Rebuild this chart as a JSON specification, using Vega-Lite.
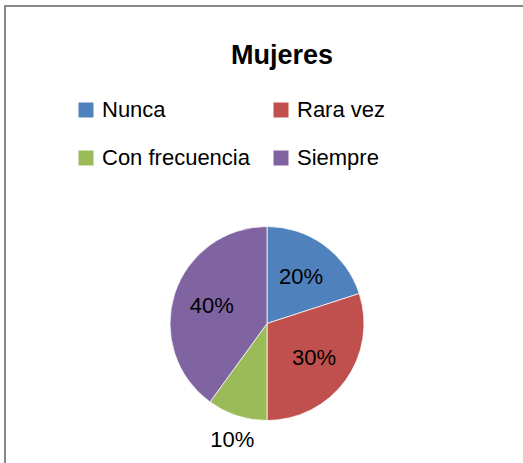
{
  "$schema": "https://vega.github.io/schema/vega-lite/v6.json",
  "autosize": "none",
  "width": 524,
  "height": 635,
  "padding": {"left": 5, "top": 6, "right": 0, "bottom": 0},
  "background": "white",
  "view": {"stroke": "#878787", "strokeWidth": 2},
  "config": {
    "view": {"stroke": "#878787", "strokeWidth": 2},
    "font": "Liberation Sans"
  },
  "title": {
    "text": "Mujeres",
    "font": "Liberation Sans",
    "fontSize": 27,
    "fontWeight": "bold",
    "color": "#000000",
    "anchor": "middle",
    "frame": "group",
    "baseline": "alphabetic",
    "offset": 0,
    "dx": 15,
    "dy": 85
  },
  "data": {
    "values": [
      {"categoria": "Nunca", "valor": 20, "etiqueta": "20%", "orden": 1},
      {"categoria": "Rara vez", "valor": 30, "etiqueta": "30%", "orden": 2},
      {"categoria": "Con frecuencia", "valor": 10, "etiqueta": "10%", "orden": 3},
      {"categoria": "Siempre", "valor": 40, "etiqueta": "40%", "orden": 4}
    ]
  },
  "encoding": {
    "theta": {"field": "valor", "type": "quantitative", "stack": true},
    "order": {"field": "orden", "type": "quantitative"}
  },
  "layer": [
    {
      "mark": {"type": "arc", "outerRadius": 97, "stroke": "white", "strokeWidth": 0.75},
      "encoding": {
        "color": {
          "field": "categoria",
          "type": "nominal",
          "scale": {
            "domain": ["Nunca", "Rara vez", "Con frecuencia", "Siempre"],
            "range": ["#4F81BD", "#C0504D", "#9BBB59", "#8064A2"]
          },
          "legend": {
            "title": null,
            "orient": "none",
            "legendX": 70,
            "legendY": 93,
            "columns": 2,
            "direction": "horizontal",
            "padding": 0,
            "columnPadding": 20,
            "rowPadding": 26,
            "symbolType": "square",
            "symbolSize": 225,
            "symbolStrokeWidth": 0,
            "labelFont": "Liberation Sans",
            "labelFontSize": 22,
            "labelColor": "#000000",
            "labelOffset": 5,
            "labelLimit": 300
          }
        }
      }
    },
    {
      "mark": {"type": "text", "font": "Liberation Sans", "fontSize": 22, "color": "#000000", "radius": 58},
      "encoding": {
        "text": {"condition": {"test": "datum.categoria !== 'Con frecuencia'", "field": "etiqueta"}, "value": ""}
      }
    },
    {
      "mark": {"type": "text", "font": "Liberation Sans", "fontSize": 22, "color": "#000000", "radius": 122, "dx": 3},
      "encoding": {
        "text": {"condition": {"test": "datum.categoria === 'Con frecuencia'", "field": "etiqueta"}, "value": ""}
      }
    }
  ]
}
